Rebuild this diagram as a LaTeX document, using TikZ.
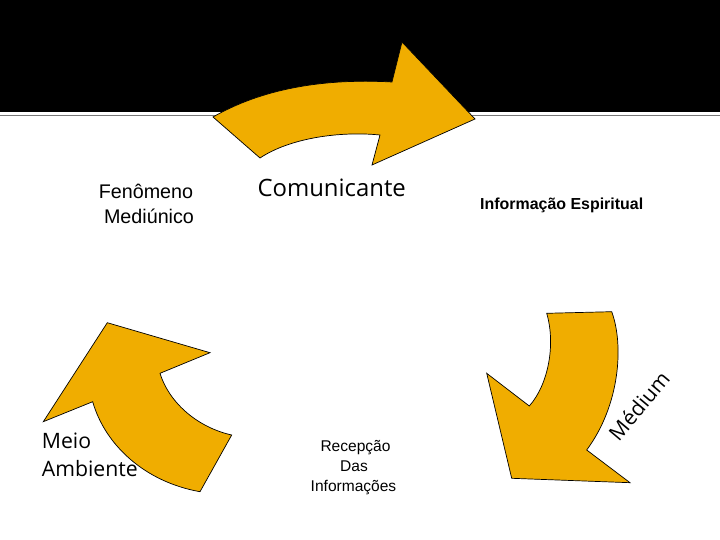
\documentclass[tikz,border=0pt]{standalone}
\usepackage{fontspec}
\setmainfont{Liberation Sans}
\newfontfamily\segfont{Open Sans}
\definecolor{arrowgold}{RGB}{240,173,0}
\definecolor{rulegray}{RGB}{120,120,120}
\begin{document}
\begin{tikzpicture}[x=1bp,y=-1bp,
  bigarrow/.style={fill=arrowgold,draw=black,line width=0.7bp,line join=miter},
  segtext/.style={font=\segfont\fontsize{#1}{#1}\selectfont,inner sep=0pt,text=black},
  arialtext/.style={font=\fontsize{#1}{#1}\selectfont,inner sep=0pt,text=black},
  boldtext/.style={font=\bfseries\fontsize{#1}{#1}\selectfont,inner sep=0pt,text=black}]
\useasboundingbox (0,0) rectangle (720,540);
\fill[white] (0,0) rectangle (720,540);
% header band
\fill[black] (0,0) rectangle (720,112);
\draw[rulegray,line width=1.5bp] (0,115.5) -- (720,115.5);
% top arrow
\draw[bigarrow] (213,117) .. controls (260,90) and (320,78) .. (392,82)
  -- (402,42) -- (475,119) -- (372,165) -- (380,135)
  .. controls (340,131) and (290,138) .. (260,158) -- cycle;
% right arrow
\draw[bigarrow] (546.7,313.3) -- (611.7,311.7)
  .. controls (624,345) and (620,405) .. (586.7,450)
  -- (630,482.7) -- (511.7,478.3) -- (486.7,373.3) -- (529.3,406)
  .. controls (548,385) and (556,345) .. (546.7,313.3) -- cycle;
% left arrow
\draw[bigarrow] (107.3,322.7) -- (210,352.7) -- (160,373.3)
  .. controls (170,405) and (200,428) .. (231.7,435)
  -- (200,491.7)
  .. controls (145,482) and (105,445) .. (92.7,401.7)
  -- (43.3,421.7) -- cycle;
% texts
\node[arialtext=19.8,anchor=base] (fen1) at (146,198.3) {Fenômeno};
\node[arialtext=19.8,anchor=base] (fen2) at (149,223.3) {Mediúnico};
\node[segtext=24,anchor=base] (com) at (331.7,196.7) {Comunicante};
\node[boldtext=16,anchor=base west] (info) at (480,210) {Informação Espiritual};
\node[segtext=21.3,anchor=base west] (meio1) at (41.7,448) {Meio};
\node[segtext=21.3,anchor=base west] (meio2) at (41.7,476.7) {Ambiente};
\node[arialtext=15.6,anchor=base] (rec1) at (355.5,451.5) {Recepção};
\node[arialtext=15.6,anchor=base] (rec2) at (354,471.3) {Das};
\node[arialtext=15.6,anchor=base] (rec3) at (353.5,491) {Informações};
\node[segtext=21,anchor=base,rotate=50] (med) at (645,411) {Médium};
\end{tikzpicture}
\end{document}
